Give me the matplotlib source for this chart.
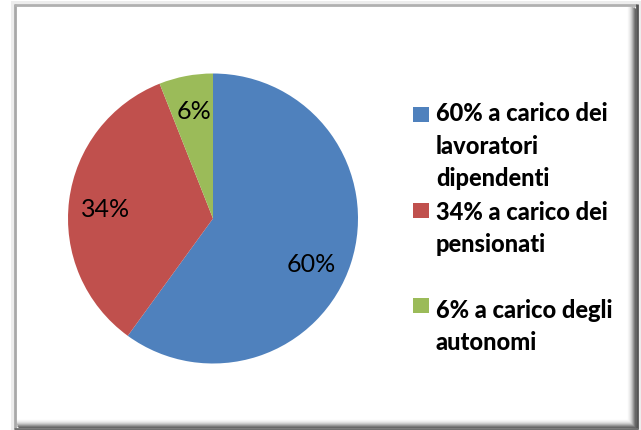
import matplotlib
matplotlib.use("Agg")
import matplotlib.pyplot as plt
from matplotlib.patches import Rectangle

labels = ["60% a carico dei\nlavoratori\ndipendenti", "34% a carico dei\npensionati", "6% a carico degli\nautonomi"]
values = [60, 34, 6]
colors = ["#4F81BD", "#C0504D", "#9BBB59"]

# label placement (in pie-radius units), as in the original "best fit" layout
label_pos = [(0.676, -0.300), (-0.738, 0.079), (-0.131, 0.755)]

W, H = 641, 430
fig = plt.figure(figsize=(W / 100, H / 100), dpi=100)
fig.patch.set_facecolor("white")

# frame with shadow
bg = fig.add_axes([0, 0, 1, 1])
bg.set_xlim(0, W)
bg.set_ylim(H, 0)
bg.axis("off")
bg.add_patch(Rectangle((11, 1), 630, 429, facecolor="#EDEDED", edgecolor="none"))
bg.add_patch(Rectangle((14, 4), 624, 425, facecolor="white", edgecolor="none"))
shades = ["#F7F7F7", "#EFEFEF", "#E2E2E2", "#D0D0D0", "#B8B8B8", "#9C9C9C", "#808080", "#666666"]
for i, c in enumerate(shades):
    x = 628 + i
    bg.plot([x, x], [4 + i * 0.5, 429], color=c, lw=1.0, solid_capstyle="butt")
    y = 420 + i
    bg.plot([14 + i * 0.5, 636], [y, y], color=c, lw=1.0, solid_capstyle="butt")
bg.plot([15, 15], [4, 429], color="#A8A8A8", lw=2, solid_capstyle="butt")
bg.plot([14, 637], [5, 5], color="#B0B0B0", lw=2, solid_capstyle="butt")
bg.plot([637, 637], [4, 429], color="#555555", lw=2, solid_capstyle="butt")
bg.plot([14, 638], [428.5, 428.5], color="#707070", lw=2, solid_capstyle="butt")

ax = fig.add_axes([68 / W, (H - 218.5 - 145) / H, 290 / W, 290 / H])
wedges, texts, autotexts = ax.pie(
    values, colors=colors, startangle=90, counterclock=False,
    autopct=lambda p: f"{p:.0f}%", pctdistance=0.75,
    wedgeprops=dict(linewidth=0),
    textprops=dict(fontsize=18, family="Lato", color="black"),
)
for t, p in zip(autotexts, label_pos):
    t.set_position(p)
    t.set_verticalalignment("center_baseline")
ax.set_xlim(-1, 1)
ax.set_ylim(-1, 1)
ax.set_aspect("equal")

# legend
text_tops = [116, 215, 313]
box_centers = [114.5, 210, 305]
for lab, col, y, yb in zip(labels, colors, text_tops, box_centers):
    bg.add_patch(Rectangle((413, yb - 7.5), 16, 15, facecolor=col, edgecolor="none"))
    bg.text(436, y - 14, lab, fontsize=17, fontweight="black", family="Lato",
            va="top", ha="left", linespacing=1.5)

fig.savefig("out.png", dpi=100)
